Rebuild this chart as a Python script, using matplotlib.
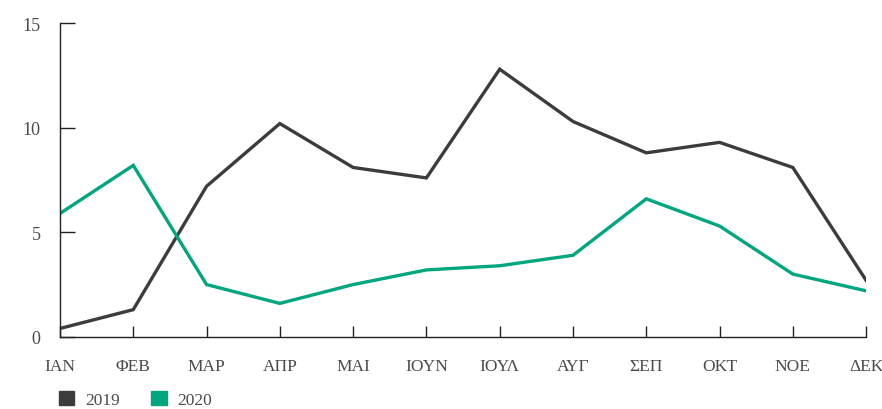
import matplotlib.pyplot as plt
from matplotlib.patches import Patch

months = ["ΙΑΝ", "ΦΕΒ", "ΜΑΡ", "ΑΠΡ", "ΜΑΙ", "ΙΟΥΝ", "ΙΟΥΛ", "ΑΥΓ", "ΣΕΠ", "ΟΚΤ", "ΝΟΕ", "ΔΕΚ"]
vals_2019 = [0.4, 1.3, 7.2, 10.2, 8.1, 7.6, 12.8, 10.3, 8.8, 9.3, 8.1, 2.7]
vals_2020 = [5.9, 8.2, 2.5, 1.6, 2.5, 3.2, 3.4, 3.9, 6.6, 5.3, 3.0, 2.2]
y_ticks = [0, 5, 10, 15]

col_2019 = "#3c3c3c"
col_2020 = "#00a67e"
text_col = "#4a4a4a"

plt.rcParams["font.family"] = ["Liberation Serif", "DejaVu Serif"]

fig = plt.figure(figsize=(8.82, 4.10), dpi=100)
ax = fig.add_axes([0.068, 0.176, 0.914, 0.765])

x = list(range(len(months)))
ax.plot(x, vals_2019, color=col_2019, linewidth=2.4, solid_joinstyle="miter")
ax.plot(x, vals_2020, color=col_2020, linewidth=2.4, solid_joinstyle="miter")

ax.set_xlim(0, len(months) - 1)
ax.set_ylim(0, 15)
ax.set_xticks(x)
ax.set_xticklabels(months)
ax.set_yticks(y_ticks)

for side in ("top", "right"):
    ax.spines[side].set_visible(False)
for side in ("left", "bottom"):
    ax.spines[side].set_color("#222222")
    ax.spines[side].set_linewidth(1.0)

ax.tick_params(axis="y", direction="in", length=11, width=1, color="#222222",
               labelsize=13, labelcolor=text_col, pad=14)
ax.tick_params(axis="x", direction="in", length=8, width=1, color="#222222",
               labelsize=12.5, labelcolor=text_col, pad=15)

handles = [Patch(color=col_2019, label="2019"), Patch(color=col_2020, label="2020")]
fig.legend(handles=handles, loc="lower left", bbox_to_anchor=(0.049, -0.035), ncol=2,
           frameon=False, fontsize=12.5, labelcolor=text_col, handlelength=0.9,
           handleheight=0.9, columnspacing=1.8, handletextpad=0.6)

fig.savefig("out.png", dpi=100)
